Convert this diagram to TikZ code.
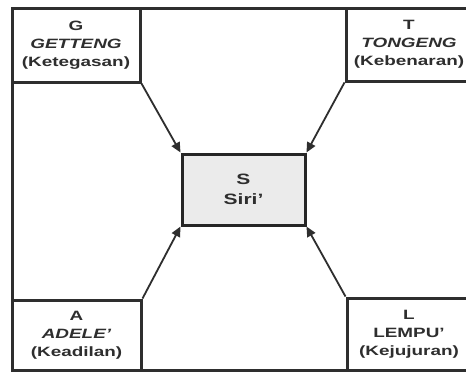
\documentclass[tikz,border=0pt]{standalone}
\usepackage{fontspec}
% every label is set in the bold cuts
\setmainfont{Liberation Sans}[UprightFont=* Bold, ItalicFont=* Bold Italic]
\usepackage{graphicx}
\usetikzlibrary{arrows.meta}

% horizontally widened label text
\newcommand{\stretchtxt}[1]{\scalebox{1.4}[1]{#1}}

\definecolor{ink}{HTML}{2E2E2E}
\definecolor{corefill}{HTML}{EBEBEB}

\tikzset{
  frame/.style={draw=ink, line width=3pt},
  cornerbox/.style={draw=ink, line width=3pt, fill=white, inner sep=0pt,
    align=center, text=ink, font=\fontsize{13.5}{18}\selectfont},
  corebox/.style={draw=black!85, line width=3pt, fill=corefill, inner sep=0pt,
    align=center, text=ink, font=\fontsize{15}{20}\selectfont},
  link/.style={draw=ink, line width=1.8pt, -{Triangle[length=10pt,width=9pt]}},
}

\begin{document}
\begin{tikzpicture}[x=1pt,y=-1pt]
\useasboundingbox (0,0) rectangle (466,372);
\fill[white] (0,0) rectangle (466,372);

% outer frame
\draw[frame] (12,8) rectangle (472,370);

% four corner values
\node[cornerbox, minimum width=128pt, minimum height=74pt] (G) at (76,45)
  {\stretchtxt{G}\\\stretchtxt{\itshape GETTENG}\\\stretchtxt{(Ketegasan)}};
\node[cornerbox, minimum width=126pt, minimum height=73pt] (T) at (409,44.5)
  {\stretchtxt{T}\\\stretchtxt{\itshape TONGENG}\\\stretchtxt{(Kebenaran)}};
\node[cornerbox, minimum width=129pt, minimum height=70pt] (A) at (76.5,335)
  {\stretchtxt{A}\\\stretchtxt{\itshape ADELE'}\\\stretchtxt{(Keadilan)}};
\node[cornerbox, minimum width=124pt, minimum height=72pt] (L) at (409,334)
  {\stretchtxt{L}\\\stretchtxt{LEMPU'}\\\stretchtxt{(Kejujuran)}};

% central value
\node[corebox, minimum width=123pt, minimum height=71pt] (S) at (243.5,189.5)
  {\stretchtxt{S}\\\stretchtxt{Siri'}};

% connectors into the centre
\draw[link] (G.south east) -- (S.north west);
\draw[link] (T.south west) -- (S.north east);
\draw[link] (A.north east) -- (S.south west);
\draw[link] (L.north west) -- (S.south east);
\end{tikzpicture}
\end{document}
